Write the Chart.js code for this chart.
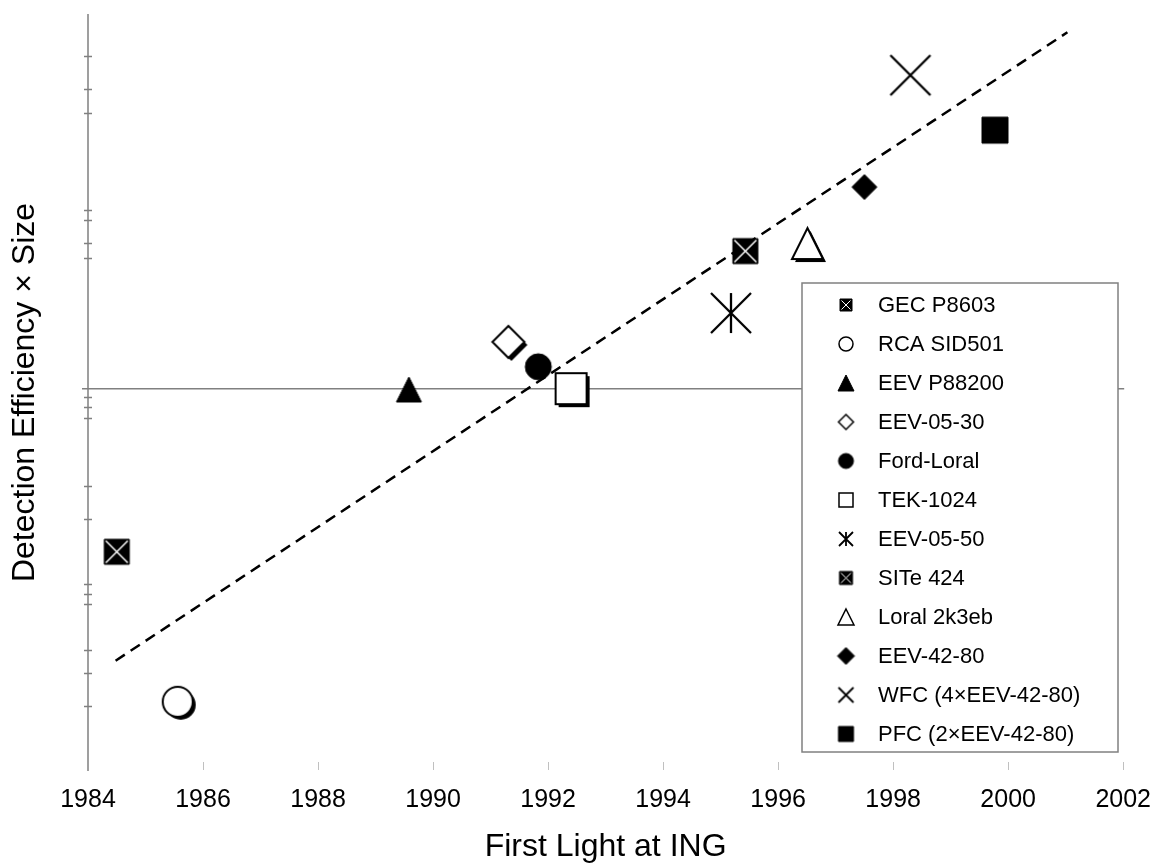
<!DOCTYPE html>
<html>
<head>
<meta charset="utf-8">
<script src="https://cdn.jsdelivr.net/npm/chart.js@4.4.1/dist/chart.umd.min.js"></script>
<style>
  html, body { margin: 0; padding: 0; background: #fff; }
</style>
</head>
<body>
<canvas id="chart" width="1166" height="867"></canvas>
<script>
// detectors in legend order, first light year and detection efficiency x size (log)
const detectors = ["GEC P8603", "RCA SID501", "EEV P88200", "EEV-05-30", "Ford-Loral", "TEK-1024",
  "EEV-05-50", "SITe 424", "Loral 2k3eb", "EEV-42-80", "WFC (4×EEV-42-80)", "PFC (2×EEV-42-80)"];
const firstLight = [1984.5, 1985.56, 1989.58, 1991.31, 1991.83, 1992.4, 1995.18, 1995.43, 1996.51, 1997.5, 1998.3, 1999.77];
const efficiencySize = [0.134, 0.0211, 0.99, 1.78, 1.31, 1.0, 2.54, 5.45, 5.98, 12.0, 47.6, 24.2];

// dashed trend line end points
const trendYears = [1984.48, 2001.03];
const trendValues = [0.035, 80.8];

// unlabelled tick marks on the log axis
const yMinorTicks = [0.02, 0.03, 0.04, 0.07, 0.08, 0.09, 0.2, 0.3, 0.7, 0.8, 0.9, 5, 6, 8, 9, 30, 40, 60];

const FONT = "'Liberation Sans', Arial, sans-serif";

function makeMarker(shape, w, h, fill, shadow, lw) {
  const pad = 4, off = shadow ? 3 : 0;
  const c = document.createElement("canvas");
  c.width = Math.ceil(w + 2 * pad + 2 * off);
  c.height = Math.ceil(h + 2 * pad + 2 * off);
  const ctx = c.getContext("2d");
  const cx = c.width / 2, cy = c.height / 2;

  const path = (x, y) => {
    ctx.beginPath();
    if (shape === "circle") ctx.arc(x, y, w / 2, 0, Math.PI * 2);
    else if (shape === "square" || shape === "xsquare") ctx.rect(x - w / 2, y - h / 2, w, h);
    else if (shape === "diamond") {
      ctx.moveTo(x, y - h / 2); ctx.lineTo(x + w / 2, y);
      ctx.lineTo(x, y + h / 2); ctx.lineTo(x - w / 2, y);
    } else if (shape === "triangle") {
      ctx.moveTo(x, y - h / 2); ctx.lineTo(x + w / 2, y + h / 2); ctx.lineTo(x - w / 2, y + h / 2);
    }
    ctx.closePath();
  };

  ctx.lineJoin = "miter";
  if (shape === "x" || shape === "asterisk") {
    ctx.strokeStyle = "#000";
    ctx.lineWidth = lw + 0.3;
    ctx.beginPath();
    ctx.moveTo(cx - w / 2, cy - h / 2); ctx.lineTo(cx + w / 2, cy + h / 2);
    ctx.moveTo(cx + w / 2, cy - h / 2); ctx.lineTo(cx - w / 2, cy + h / 2);
    if (shape === "asterisk") { ctx.moveTo(cx, cy - h / 2); ctx.lineTo(cx, cy + h / 2); }
    ctx.stroke();
    return c;
  }

  if (shadow) {
    path(cx + off, cy + off);
    ctx.fillStyle = "#000";
    ctx.fill();
  }
  path(cx, cy);
  ctx.fillStyle = fill;
  ctx.fill();
  ctx.strokeStyle = "#000";
  ctx.lineWidth = fill === "#000" ? 1 : lw;
  ctx.stroke();

  if (shape === "xsquare") {
    ctx.strokeStyle = "#fff";
    ctx.lineWidth = w > 16 ? 1.5 : 1;
    const i = 1.5;
    ctx.beginPath();
    ctx.moveTo(cx - w / 2 + i, cy - h / 2 + i); ctx.lineTo(cx + w / 2 - i, cy + h / 2 - i);
    ctx.moveTo(cx + w / 2 - i, cy - h / 2 + i); ctx.lineTo(cx - w / 2 + i, cy + h / 2 - i);
    ctx.stroke();
  }
  return c;
}

// [shape, plot w, plot h, fill, shadow, legend size]
const markerSpec = [
  ["xsquare", 25, 25, "#000", false, 12],
  ["circle", 30, 30, "#fff", true, 14],
  ["triangle", 25, 25, "#000", false, 16],
  ["diamond", 32, 32, "#fff", true, 15],
  ["circle", 26, 26, "#000", false, 15],
  ["square", 31, 31, "#fff", true, 14],
  ["asterisk", 40, 40, null, false, 14],
  ["xsquare", 25, 25, "#000", false, 13],
  ["triangle", 31, 31, "#fff", true, 16],
  ["diamond", 25, 25, "#000", false, 17],
  ["x", 40, 40, null, false, 15],
  ["square", 26, 26, "#000", false, 15]
];

const plotMarkers = markerSpec.map(s => makeMarker(s[0], s[1], s[2], s[3], s[4], 2));
const legendMarkers = markerSpec.map(s => makeMarker(s[0], s[5], s[5], s[3], false, 1.5));

const datasets = detectors.map((name, i) => ({
  type: "scatter",
  label: name,
  data: [{ x: firstLight[i], y: efficiencySize[i] }],
  pointStyle: plotMarkers[i],
  pointRadius: 12
}));

datasets.push({
  type: "line",
  label: "trend",
  data: trendYears.map((x, i) => ({ x: x, y: trendValues[i] })),
  borderColor: "#000",
  borderWidth: 2.5,
  borderDash: [11, 7],
  pointRadius: 0,
  fill: false
});

const axesPlugin = {
  id: "axesPlugin",
  beforeDatasetsDraw(chart) {
    const { ctx, scales: { x, y } } = chart;
    const x0 = x.getPixelForValue(1984);
    ctx.save();
    ctx.strokeStyle = "#808080";
    ctx.lineWidth = 1.5;
    ctx.beginPath();
    ctx.moveTo(x0, y.top - 1);
    ctx.lineTo(x0, y.bottom + 1);
    yMinorTicks.forEach(v => {
      const py = Math.round(y.getPixelForValue(v)) + 0.5;
      ctx.moveTo(x0 - 4, py);
      ctx.lineTo(x0 + 4, py);
    });
    const y1 = y.getPixelForValue(1);
    ctx.moveTo(x0 - 6, y1);
    ctx.lineTo(x.right + 1, y1);
    ctx.stroke();

    ctx.strokeStyle = "#c0c0c0";
    ctx.lineWidth = 1;
    ctx.beginPath();
    x.ticks.forEach(t => {
      if (t.value === 1984) return;
      const px = Math.round(x.getPixelForValue(t.value)) + 0.5;
      ctx.moveTo(px, y.bottom - 8);
      ctx.lineTo(px, y.bottom);
    });
    ctx.stroke();
    ctx.restore();
  },
  afterDatasetsDraw(chart) {
    const ctx = chart.ctx;
    ctx.save();
    ctx.fillStyle = "#fff";
    ctx.fillRect(802, 283, 316, 469);
    ctx.strokeStyle = "#808080";
    ctx.lineWidth = 1.5;
    ctx.strokeRect(802, 283, 316, 469);
    ctx.font = "22px " + FONT;
    ctx.textBaseline = "middle";
    ctx.fillStyle = "#000";
    detectors.forEach((name, i) => {
      const cy = 305 + i * 39;
      const m = legendMarkers[i];
      ctx.drawImage(m, 846 - m.width / 2, cy - m.height / 2);
      ctx.fillText(name, 878, cy + 1);
    });
    ctx.restore();
  }
};

new Chart(document.getElementById("chart"), {
  data: { datasets: datasets },
  options: {
    responsive: false,
    animation: false,
    devicePixelRatio: 1,
    layout: { padding: { top: 15, right: 37, bottom: 0, left: 0 } },
    plugins: { legend: { display: false }, tooltip: { enabled: false } },
    scales: {
      x: {
        type: "linear",
        min: 1984,
        max: 2002,
        ticks: {
          stepSize: 2,
          color: "#000",
          padding: 15,
          font: { family: FONT, size: 25 },
          callback: v => String(v)
        },
        grid: { display: false, drawTicks: false },
        border: { display: false },
        title: {
          display: true,
          text: "First Light at ING",
          color: "#000",
          font: { family: FONT, size: 32 },
          padding: { top: 0, bottom: 0.8 }
        },
        afterFit: s => { s.height = 97; }
      },
      y: {
        type: "logarithmic",
        min: 0.0091,
        max: 100,
        ticks: { display: false },
        grid: { display: false, drawTicks: false },
        border: { display: false },
        title: {
          display: true,
          text: "Detection Efficiency × Size",
          color: "#000",
          font: { family: FONT, size: 32 },
          padding: { top: 6, bottom: 0 }
        },
        afterFit: s => { s.width = 88; }
      }
    }
  },
  plugins: [axesPlugin]
});
</script>
</body>
</html>
